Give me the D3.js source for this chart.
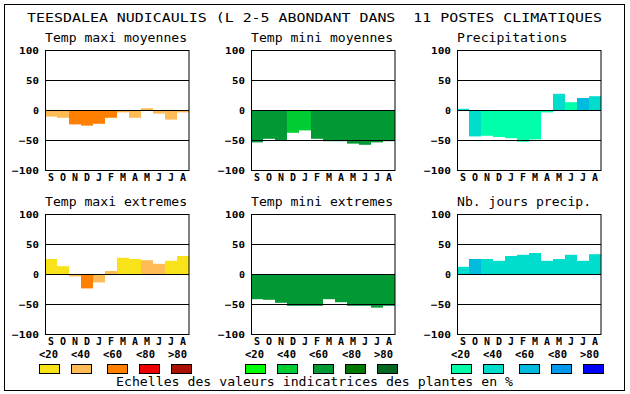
<!DOCTYPE html>
<html><head><meta charset="utf-8">
<script src="https://cdn.jsdelivr.net/npm/d3@7"></script>
<style>body{margin:0;background:#fff}svg{display:block}</style>
</head><body>
<script>
const mainTitle = "TEESDALEA NUDICAULIS (L 2-5 ABONDANT DANS  11 POSTES CLIMATIQUES";
const footer = "Echelles des valeurs indicatrices des plantes en %";
const months = ["S","O","N","D","J","F","M","A","M","J","J","A"];
const tickValues = [100, 50, 0, -50, -100];
const legendLabels = ["<20", "<40", "<60", "<80", ">80"];
const warmColors = ["#f8e21a", "#ffbb55", "#ff8000", "#ee0000", "#aa1100"];
const greenColors = ["#00ff00", "#00cc33", "#009933", "#007700", "#006622"];
const blueColors = ["#00ffaa", "#00ddcc", "#00bbdd", "#0099ee", "#0000ff"];

const panelTitles = ["Temp maxi moyennes", "Temp mini moyennes", "Precipitations",
                     "Temp maxi extremes", "Temp mini extremes", "Nb. jours precip."];

const tmaxMoy    = [-11, -13, -24, -26, -23, -13, -4, -13, 3, -6, -16, -4];
const tmaxMoyCls = [1, 1, 2, 2, 2, 2, 1, 1, 1, 1, 1, 1];
const tminMoy    = [-54, -48, -50, -38, -34, -48, -52, -52, -56, -58, -54, -52];
const tminMoyCls = [2, 2, 2, 1, 1, 2, 2, 2, 2, 2, 2, 2];
const precip     = [2, -44, -43, -45, -47, -53, -49, -4, 27, 13, 20, 23];
const precipCls  = [1, 1, 0, 0, 0, 0, 0, 0, 1, 0, 2, 1];
const tmaxExt    = [25, 13, -4, -24, -14, 5, 27, 25, 23, 17, 22, 30];
const tmaxExtCls = [0, 0, 1, 2, 1, 1, 0, 0, 1, 1, 0, 0];
const tminExt    = [-42, -43, -48, -53, -53, -53, -42, -47, -53, -53, -56, -53];
const tminExtCls = [2, 2, 2, 2, 2, 2, 2, 2, 2, 2, 2, 2];
const nbJours    = [12, 25, 25, 22, 30, 32, 35, 22, 25, 32, 22, 33];
const nbJoursCls = [1, 2, 1, 1, 1, 1, 1, 1, 1, 1, 1, 1];

const panels = [
  {vals: tmaxMoy, cls: tmaxMoyCls, pal: warmColors},
  {vals: tminMoy, cls: tminMoyCls, pal: greenColors},
  {vals: precip, cls: precipCls, pal: blueColors},
  {vals: tmaxExt, cls: tmaxExtCls, pal: warmColors},
  {vals: tminExt, cls: tminExtCls, pal: greenColors},
  {vals: nbJours, cls: nbJoursCls, pal: blueColors}
];

const W = 630, H = 394;
const font = "'DejaVu Sans Mono', monospace";
const svg = d3.select("body").append("svg").attr("width", W).attr("height", H);

svg.append("rect").attr("x", 4.5).attr("y", 4.5).attr("width", 620).attr("height", 386)
  .attr("fill", "none").attr("stroke", "#000").attr("stroke-width", 1);

svg.append("text").attr("x", 27).attr("y", 22).attr("font-family", font).attr("font-size", 13)
  .style("white-space", "pre").attr("xml:space", "preserve")
  .attr("textLength", 575).attr("lengthAdjust", "spacingAndGlyphs").text(mainTitle);

const lefts = [45, 251, 457], tops = [50, 214];
const pw = 144, ph = 120;

panels.forEach((p, i) => {
  const x0 = lefts[i % 3], y0 = tops[Math.floor(i / 3)];
  const g = svg.append("g").attr("transform", `translate(${x0},${y0})`);
  const x = d3.scaleBand().domain(d3.range(12)).range([0, pw]).padding(0);
  const y = d3.scaleLinear().domain([-100, 100]).range([ph, 0]);

  g.append("text").attr("x", 0).attr("y", -8).attr("font-family", font).attr("font-size", 12.5)
    .attr("textLength", panelTitles[i].length * 7.95 - 1).attr("lengthAdjust", "spacingAndGlyphs")
    .text(panelTitles[i]);

  g.selectAll("rect.bar").data(p.vals).join("rect").attr("class", "bar")
    .attr("x", (d, j) => x(j)).attr("width", x.bandwidth())
    .attr("y", d => y(Math.max(0, d))).attr("height", d => Math.abs(y(d) - y(0)))
    .attr("fill", (d, j) => p.pal[p.cls[j]]);

  g.selectAll("line.grid").data([50, 0, -50]).join("line").attr("class", "grid")
    .attr("x1", 0).attr("x2", pw).attr("y1", d => Math.round(y(d)) + 0.5).attr("y2", d => Math.round(y(d)) + 0.5)
    .attr("stroke", "#000").attr("stroke-width", 1);

  g.append("rect").attr("x", 0.5).attr("y", 0.5).attr("width", pw - 0.5).attr("height", ph)
    .attr("fill", "none").attr("stroke", "#000").attr("stroke-width", 1);

  const ay = g.append("g").call(d3.axisLeft(y).tickValues(tickValues).tickSize(0).tickPadding(6).tickFormat(d3.format("d")));
  ay.select(".domain").remove();
  ay.selectAll("text").attr("font-family", font).attr("font-size", 9.5).attr("font-weight", "bold")
    .attr("fill", "#000").attr("dy", "0.36em")
    .attr("textLength", d => String(d).length * 7 - 1).attr("lengthAdjust", "spacingAndGlyphs");

  const ax = g.append("g").attr("transform", `translate(0,${ph})`)
    .call(d3.axisBottom(x).tickSize(0).tickFormat(j => months[j]));
  ax.select(".domain").remove();
  ax.selectAll("text").attr("font-family", font).attr("font-size", 10.5).attr("font-weight", "bold")
    .attr("fill", "#000").attr("y", 11).attr("dy", 0)
    .attr("textLength", 6).attr("lengthAdjust", "spacingAndGlyphs");
});

const groups = [
  {pal: warmColors, lx: 39},
  {pal: greenColors, lx: 245},
  {pal: blueColors, lx: 451}
];
const labelOffsets = [0, 32, 64, 97, 129];
const boxOffsets = [0, 32, 68, 100, 132];
groups.forEach(gr => {
  legendLabels.forEach((lab, k) => {
    svg.append("text").attr("x", gr.lx + labelOffsets[k]).attr("y", 358)
      .attr("font-family", font).attr("font-size", 11).attr("font-weight", "bold")
      .attr("textLength", 19).attr("lengthAdjust", "spacingAndGlyphs").text(lab);
    svg.append("rect").attr("x", gr.lx + boxOffsets[k] + 0.5).attr("y", 364.5).attr("width", 20).attr("height", 9)
      .attr("fill", gr.pal[k]).attr("stroke", "#000").attr("stroke-width", 1);
  });
});

svg.append("text").attr("x", 116).attr("y", 386).attr("font-family", font).attr("font-size", 13)
  .attr("textLength", 397).attr("lengthAdjust", "spacingAndGlyphs").text(footer);
</script>
</body></html>
